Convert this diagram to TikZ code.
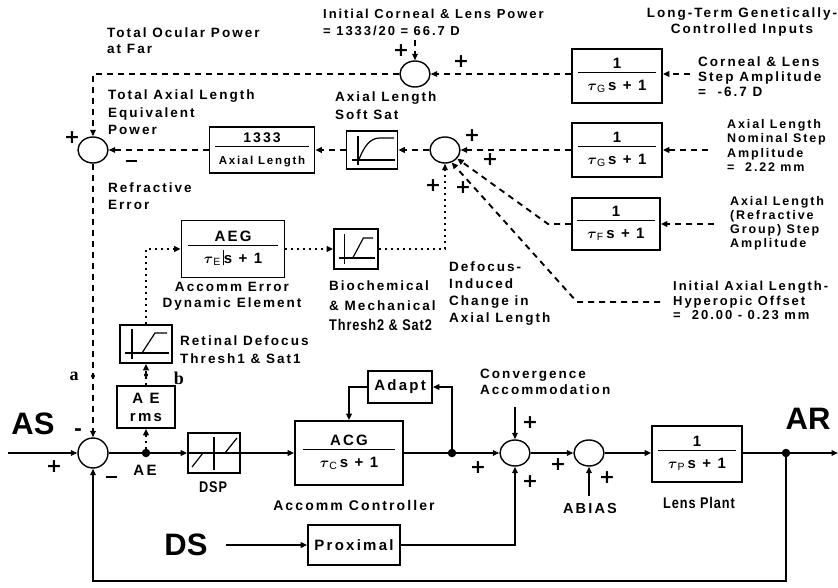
\documentclass[tikz,border=0pt]{standalone}
\usepackage{fontspec}
\usepackage{amsmath}
\usepackage{array}
\setmainfont{Liberation Sans}
\newfontfamily\labelfont{Liberation Sans}[LetterSpace=15]
\newfontfamily\narrowfont{Liberation Sans}[FakeStretch=0.82,LetterSpace=6]
\newfontfamily\letterfont{Liberation Serif}
\newfontfamily\signfont{DejaVu Sans}
\usetikzlibrary{arrows.meta, positioning, shapes.geometric}

% transfer-function box content: numerator over a rule over denominator
\newcommand{\blockfrac}[3][78pt]{{\setlength{\arrayrulewidth}{1.3pt}%
  \begin{tabular}{@{}>{\centering\arraybackslash}p{#1}@{}}#2\\[-2pt]\hline\rule{0pt}{17pt}#3\end{tabular}}}
\newcommand{\tconst}[1]{$\boldsymbol{\tau}_{\mathrm{#1}}$}
\newcommand{\minusbar}{\rule{11pt}{2.4pt}}

\tikzset{
  block/.style={
    rectangle,
    draw,
    line width=1.6pt,
    inner sep=0pt,
    align=center,
    font=\labelfont\bfseries\fontsize{15}{18}\selectfont
  },
  satbox/.style={
    rectangle,
    draw,
    line width=1.6pt,
    minimum width=52pt,
    minimum height=38pt
  },
  sumnode/.style={
    ellipse,
    draw,
    line width=1.4pt,
    minimum width=30pt,
    minimum height=26pt,
    inner sep=0pt
  },
  junc/.style={circle, fill, inner sep=0pt, minimum size=8.5pt},
  tick/.style={circle, fill, inner sep=0pt, minimum size=4pt},
  arrow/.style={-{Triangle[length=6.5pt,width=5.5pt]}, line width=1.6pt},
  plain/.style={line width=1.6pt},
  dasharrow/.style={arrow, line width=1.9pt, dash pattern=on 6pt off 5pt},
  dotarrow/.style={arrow, line width=1.9pt, dash pattern=on 1.9pt off 4.1pt},
  note/.style={font=\labelfont\bfseries\fontsize{13.5}{16}\selectfont, align=left, inner sep=0pt},
  narrow/.style={font=\narrowfont\bfseries\fontsize{15.5}{18}\selectfont, inner sep=0pt},
  sign/.style={font=\signfont\bfseries\fontsize{19}{19}\selectfont, inner sep=0pt},
  big/.style={font=\bfseries\fontsize{31}{31}\selectfont, inner sep=0pt},
  letter/.style={font=\letterfont\bfseries\fontsize{18}{18}\selectfont, inner sep=0pt},
  softsat/.pic={
    \draw[line width=1.4pt] (-14,-14) -- (-14,15);
    \draw[line width=1.4pt] (-20,10) -- (23,10);
    \draw[line width=1.2pt] (-14,12) .. controls (-8,-4) and (-2,-12) .. (8,-12) -- (22,-12);
  },
  hardsat/.pic={
    \draw[line width=1.4pt] (-14,-15) -- (-14,15);
    \draw[line width=1.4pt] (-21,9) -- (23,9);
    \draw[line width=1.2pt] (-4,9) -- (9,-11) -- (21,-11);
  },
  deadzone/.pic={
    \draw[line width=1.4pt] (0,-16) -- (0,17);
    \draw[line width=1.2pt] (-26,0) -- (26,0);
    \draw[line width=1.2pt] (-22,14) -- (-11,0) (11,0) -- (23,-15);
  }
}

\begin{document}
\begin{tikzpicture}[x=1pt, y=-1pt]
\useasboundingbox (0,0) rectangle (838,588);

% long-term branch
\node[sumnode] (sumtop) at (415,74) {};
\node[block, minimum width=90pt, minimum height=54pt] (gcorn) at (617,76) {\blockfrac{1}{\tconst{G}\,s + 1}};
\node[block, minimum width=90pt, minimum height=54pt] (gaxial) at (617,150) {\blockfrac{1}{\tconst{G}\,s + 1}};
\node[block, minimum width=88pt, minimum height=52pt] (gfocus) at (616,224) {\blockfrac{1}{\tconst{F}\,s + 1}};
\node[sumnode] (summid) at (445,150) {};
\node[satbox, minimum width=51pt] (softsat) at (372,150) {};
\pic at (softsat) {softsat};
\node[block, minimum width=105pt, minimum height=46pt] (axlen) at (262,150) {\blockfrac[94pt]{\fontsize{14}{16}\selectfont 1333}{\fontsize{11.5}{14}\selectfont Axial Length}};
\node[sumnode] (sumrefr) at (93,150) {};

% defocus branch
\node[block, minimum width=103pt, minimum height=57pt] (aeg) at (233,249) {\blockfrac[90pt]{AEG}{\tconst{E}\,\rule[-2pt]{0.6pt}{15pt}s + 1}};
\node[satbox, minimum width=44pt, minimum height=40pt] (biosat) at (356,249) {};
\pic[xscale=0.82] at (biosat) {hardsat};
\node[satbox] (retsat) at (146,344) {};
\pic at (retsat) {hardsat};
\node[block, minimum width=58pt, minimum height=42pt] (aerms) at (146,407) {A E\\rms};

% accommodation loop
\node[sumnode, minimum height=30pt] (summain) at (93,453) {};
\node[junc] (aejunc) at (146,453) {};
\node[satbox, minimum height=40pt] (dsp) at (214,453) {};
\pic at (dsp) {deadzone};
\node[block, minimum width=108pt, minimum height=64pt] (acg) at (349,453) {\blockfrac[92pt]{ACG}{\tconst{C}\,s + 1}};
\node[block, minimum width=64pt, minimum height=32pt] (adapt) at (400,387) {Adapt};
\node[junc] (acgjunc) at (452,453) {};
\node[sumnode] (sumconv) at (515,453) {};
\node[sumnode] (sumbias) at (589,453) {};
\node[block, minimum width=90pt, minimum height=56pt] (lens) at (697,454) {\blockfrac{1}{\tconst{P}\,s + 1}};
\node[junc] (arjunc) at (786,453) {};
\node[block, minimum width=92pt, minimum height=40pt] (proximal) at (354,545) {Proximal};

\coordinate (asin) at (8,453);
\coordinate (arout) at (838,453);
\coordinate (dsin) at (226,545);
\coordinate (convin) at (515,407);
\coordinate (biasin) at (589,496);
\coordinate (ctop) at (415,40);
\coordinate (cornin) at (690,74);
\coordinate (axin) at (708,150);
\coordinate (focin) at (714,224);
\coordinate (focbend) at (548,224);
\coordinate (hypin) at (660,302);
\coordinate (hypbend) at (577,302);
\node[tick] (pa) at (93,376) {};
\node[tick] (pb) at (146,375) {};

% dashed connectors
\draw[dasharrow] (ctop) -- (sumtop.north);
\draw[dasharrow] (sumtop.west) -| (sumrefr.north);
\draw[dasharrow] (gcorn.west |- sumtop) -- (sumtop.east);
\draw[dasharrow] (cornin) -- (gcorn.east |- cornin);
\draw[dasharrow] (axin) -- (gaxial.east);
\draw[dasharrow] (gaxial.west) -- (summid.east);
\draw[dasharrow] (focin) -- (gfocus.east);
\draw[dasharrow] (gfocus.west) -- (focbend) -- (summid.-35);
\draw[dasharrow] (hypin) -- (hypbend) -- (summid.-62);
\draw[dasharrow] (summid.west) -- (softsat.east);
\draw[dasharrow] (softsat.west) -- (axlen.east);
\draw[dasharrow] (axlen.west) -- (sumrefr.east);
\draw[dasharrow] (sumrefr.south) -- (summain.north);

% dotted connectors
\draw[dotarrow] (aejunc) -- (aerms.south);
\draw[dotarrow] (aerms.north) -- (retsat.south);
\draw[dotarrow] (retsat.north) |- (aeg.west);
\draw[dotarrow] (aeg.east) -- (biosat.west);
\draw[dotarrow] (biosat.east) -| (summid.south);

% solid connectors
\draw[arrow] (asin) -- (summain.west);
\draw[plain] (summain.east) -- (aejunc);
\draw[arrow] (aejunc) -- (dsp.west);
\draw[arrow] (dsp.east) -- (acg.west);
\draw[plain] (acg.east) -- (acgjunc);
\draw[arrow] (acgjunc) -- (sumconv.west);
\draw[arrow] (acgjunc) |- (adapt.east);
\draw[arrow] (adapt.west) -| (acg.north);
\draw[arrow] (convin) -- (sumconv.north);
\draw[arrow] (sumconv.east) -- (sumbias.west);
\draw[arrow] (biasin) -- (sumbias.south);
\draw[arrow] (sumbias.east) -- (lens.west |- sumbias);
\draw[plain] (lens.east |- arjunc) -- (arjunc);
\draw[arrow] (arjunc) -- (arout);
\draw[arrow] (arjunc) -- ++(0,128) -| (summain.south);
\draw[arrow] (dsin) -- (proximal.west);
\draw[arrow] (proximal.east) -| (sumconv.south);

% labels
\node[note, anchor=north west, font=\labelfont\bfseries\fontsize{13}{16.5}\selectfont] (lblinit) at (323,9) {Initial Corneal \& Lens Power\\= 1333/20 = 66.7 D};
\node[note, anchor=north, align=center] (lbllong) at (742,8) {Long-Term Genetically-\\Controlled Inputs};
\node[note, anchor=north west] (lblfar) at (107,28) {Total Ocular Power\\at Far};
\node[note, anchor=north west, font=\labelfont\bfseries\fontsize{13.5}{17.5}\selectfont] (lbltotal) at (108,90) {Total Axial Length\\Equivalent\\Power};
\node[note, anchor=north west, font=\labelfont\bfseries\fontsize{13.5}{18}\selectfont] (lblsoft) at (335,92) {Axial Length\\Soft Sat};
\node[note, anchor=north west, font=\labelfont\bfseries\fontsize{13.5}{15}\selectfont] (lblcorn) at (698,57) {Corneal \& Lens\\Step Amplitude\\= \ -6.7 D};
\node[note, anchor=north west, font=\labelfont\bfseries\fontsize{12.5}{14.5}\selectfont] (lblnom) at (727,119) {Axial Length\\Nominal Step\\Amplitude\\= \ 2.22 mm};
\node[note, anchor=north west, font=\labelfont\bfseries\fontsize{12.5}{14}\selectfont] (lblgroup) at (730,196) {Axial Length\\(Refractive\\Group) Step\\Amplitude};
\node[note, anchor=north west, font=\labelfont\bfseries\fontsize{13}{14.5}\selectfont] (lblhyp) at (673,281) {Initial Axial Length-\\Hyperopic Offset\\= \ 20.00 - 0.23 mm};
\node[note, anchor=north west, font=\labelfont\bfseries\fontsize{13.5}{17}\selectfont] (lblrefr) at (108,183) {Refractive\\Error};
\node[note, anchor=north, align=center] (lbldyn) at (232,282) {Accomm Error\\Dynamic Element};
\node[note, anchor=north west, font=\labelfont\bfseries\fontsize{13.5}{20}\selectfont] (lblbio) at (329,281) {Biochemical\\\& Mechanical\\{\narrowfont\bfseries\fontsize{15.5}{20}\selectfont Thresh2 \& Sat2}};
\node[note, anchor=north west, font=\labelfont\bfseries\fontsize{13.5}{17}\selectfont] (lbldef) at (449,262) {Defocus-\\Induced\\Change in\\Axial Length};
\node[note, anchor=north west, font=\labelfont\bfseries\fontsize{13.5}{18}\selectfont] (lblret) at (180,336) {Retinal Defocus\\Thresh1 \& Sat1};
\node[note, anchor=north west] (lblconv) at (480,369) {Convergence\\Accommodation};
\node[note, font=\labelfont\bfseries\fontsize{15}{18}\selectfont] (lblae) at (145,470) {AE};
\node[narrow] (lbldsp) at (213,487) {DSP};
\node[note, font=\labelfont\bfseries\fontsize{14}{17}\selectfont] (lblacg) at (354,505) {Accomm Controller};
\node[note, font=\labelfont\bfseries\fontsize{14.5}{17}\selectfont] (lblbias) at (590,509) {ABIAS};
\node[narrow] (lbllens) at (699,503) {Lens Plant};
\node[big] (lblas) at (33,424) {AS};
\node[big] (lblar) at (808,419) {AR};
\node[big] (lblds) at (186,545) {DS};
\node[letter] (lbla) at (74,376) {a};
\node[letter] (lblb) at (179,378) {b};

% signs
\node[sign] (s1) at (401,51) {+};
\node[sign] (s2) at (461,62) {+};
\node[sign] (s3) at (72,138) {+};
\node[sign] (s4) at (131,161) {\minusbar};
\node[sign] (s5) at (472,136) {+};
\node[sign] (s6) at (490,160) {+};
\node[sign] (s7) at (433,186) {+};
\node[sign] (s8) at (463,188) {+};
\node[sign] (s9) at (54,467) {+};
\node[sign] (s10) at (78,432) {-};
\node[sign] (s11) at (111,477) {\minusbar};
\node[sign] (s12) at (530,423) {+};
\node[sign] (s13) at (478,468) {+};
\node[sign] (s14) at (530,482) {+};
\node[sign] (s15) at (558,465) {+};
\node[sign] (s16) at (607,478) {+};
\end{tikzpicture}
\end{document}
